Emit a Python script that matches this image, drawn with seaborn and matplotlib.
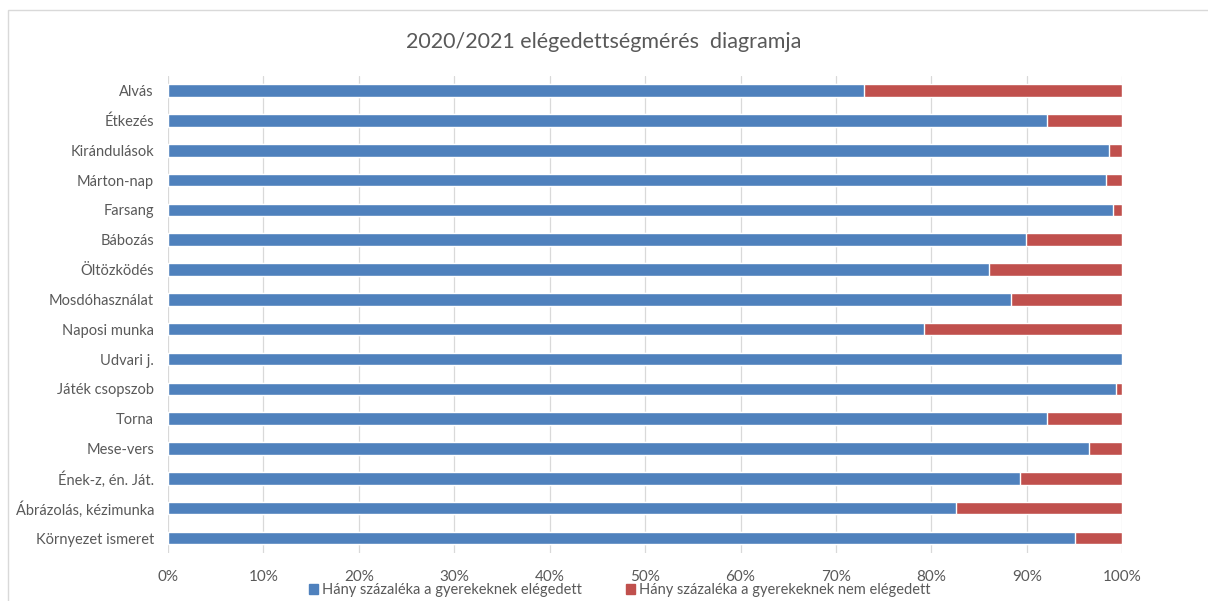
import matplotlib
matplotlib.use("Agg")
import matplotlib.pyplot as plt
import matplotlib.patches as mpatches
import pandas as pd
import seaborn as sns

categories = [
    "Alvás", "Étkezés", "Kirándulások", "Márton-nap", "Farsang", "Bábozás",
    "Öltözködés", "Mosdóhasználat", "Naposi munka", "Udvari j.",
    "Játék csopszob", "Torna", "Mese-vers", "Ének-z, én. Ját.",
    "Ábrázolás, kézimunka", "Környezet ismeret",
]
elegedett = [72.9, 92.1, 98.6, 98.3, 99.0, 89.9, 86.0, 88.3, 79.2, 100.0,
             99.3, 92.1, 96.5, 89.3, 82.6, 95.1]
nem_elegedett = [27.1, 7.9, 1.4, 1.7, 1.0, 10.1, 14.0, 11.7, 20.8, 0.0,
                 0.7, 7.9, 3.5, 10.7, 17.4, 4.9]
tick_labels = ["0%", "10%", "20%", "30%", "40%", "50%", "60%", "70%", "80%", "90%", "100%"]
series_names = ["Hány százaléka a gyerekeknek elégedett",
                "Hány százaléka a gyerekeknek nem elégedett"]

blue = "#4F81BD"
red = "#C0504D"
gray = "#595959"

df = pd.DataFrame({"cat": categories, "ok": elegedett, "nok": nem_elegedett})
df["total"] = df["ok"] + df["nok"]

sns.set_style("white")
plt.rcParams["font.family"] = ["Lato", "DejaVu Sans"]

fig = plt.figure(figsize=(12.08, 6.01), dpi=100)
ax = fig.add_axes([0.139, 0.080, 0.790, 0.794])

# red = full bar (100%), blue drawn over it
sns.barplot(data=df, x="total", y="cat", color=red, width=0.42, ax=ax,
            saturation=1, orient="h")
sns.barplot(data=df, x="ok", y="cat", color=blue, width=0.42, ax=ax,
            saturation=1, orient="h")

ax.set_xlim(0, 100)
ax.set_xticks(range(0, 101, 10))
ax.set_xticklabels(tick_labels)
ax.set_xlabel("")
ax.set_ylabel("")
ax.grid(axis="x", color="#D9D9D9", linewidth=0.9)
ax.set_axisbelow(True)
for s in ax.spines.values():
    s.set_visible(False)
ax.tick_params(axis="y", length=0, labelsize=10.5, colors=gray, pad=10)
ax.tick_params(axis="x", length=0, labelsize=11, colors=gray, pad=12)

fig.suptitle("2020/2021 elégedettségmérés  diagramja", y=0.947, fontsize=15.5, color=gray)

handles = [mpatches.Patch(color=blue), mpatches.Patch(color=red)]
fig.legend(handles, series_names, loc="center", bbox_to_anchor=(0.513, 0.018), ncol=2,
           frameon=False, fontsize=10.5, labelcolor=gray, handlelength=0.6,
           handleheight=0.6, handletextpad=0.3, columnspacing=3.0)

fig.patches.append(mpatches.Rectangle((0.007, -0.01), 1.0, 0.993, transform=fig.transFigure,
                                      fill=False, edgecolor="#D9D9D9", linewidth=1))

fig.savefig("out.png", dpi=100)
